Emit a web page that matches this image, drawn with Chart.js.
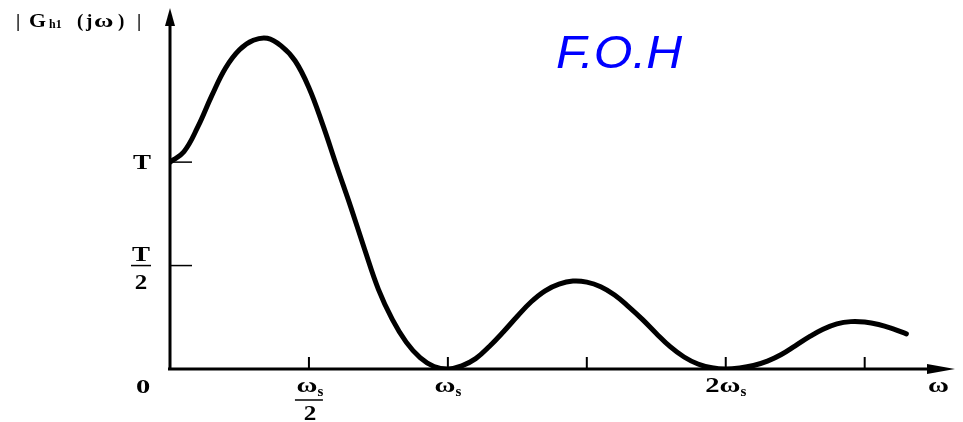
<!DOCTYPE html>
<html>
<head>
<meta charset="utf-8">
<script src="https://cdn.jsdelivr.net/npm/chart.js"></script>
<style>
  html, body { margin: 0; padding: 0; background: #fff; }
  #wrap { width: 963px; height: 422px; }
</style>
</head>
<body>
<div id="wrap"><canvas id="foh" width="963" height="422"></canvas></div>
<script>
// |Gh1(jω)|: ω in units of ωs, magnitude in units of T
const omega = [
  0, 0.05, 0.1, 0.15, 0.2, 0.25, 0.3, 0.35, 0.4, 0.45, 0.5, 0.55, 0.6, 0.65, 0.7, 0.75, 0.8, 0.85, 0.9, 0.95,
  1, 1.05, 1.1, 1.15, 1.2, 1.25, 1.3, 1.35, 1.4, 1.45, 1.5, 1.55, 1.6, 1.65, 1.7, 1.75, 1.8, 1.85, 1.9, 1.95,
  2, 2.05, 2.1, 2.15, 2.2, 2.25, 2.3, 2.35, 2.4, 2.45, 2.5, 2.55, 2.6, 2.65
];
const magnitude = [
  1.0, 1.05, 1.17, 1.32, 1.455, 1.543, 1.589, 1.599, 1.562, 1.49, 1.36, 1.18, 0.98, 0.785, 0.58, 0.385, 0.24, 0.13, 0.055, 0.012,
  0, 0.015, 0.05, 0.11, 0.18, 0.255, 0.325, 0.378, 0.41, 0.425, 0.42, 0.398, 0.358, 0.302, 0.24, 0.172, 0.108, 0.058, 0.024, 0.006,
  0, 0.005, 0.017, 0.038, 0.07, 0.112, 0.155, 0.192, 0.218, 0.229, 0.227, 0.215, 0.195, 0.17
];
const xTickValues = [0.5, 1, 1.5, 2, 2.5];
const xTickLabels = ["ωs/2", "ωs", "", "2ωs", ""];
const yTickValues = [1, 0.5];
const yTickLabels = ["T", "T/2"];

const X_MAX = 2.825;
const Y_MAX = 1.745;
const SERIF = '"Liberation Serif", "DejaVu Serif", serif';

// text stretched sideways, the scan's glyphs are wide
function wideText(ctx, text, x, y, sx) {
  ctx.save();
  ctx.translate(x, y);
  ctx.scale(sx, 1);
  ctx.fillText(text, 0, 0);
  ctx.restore();
  return ctx.measureText(text).width * sx;
}

function centredWide(ctx, text, cx, y, sx) {
  const w = ctx.measureText(text).width * sx;
  ctx.textAlign = "left";
  wideText(ctx, text, cx - w / 2, y, sx);
}

// "ωs" -> ω with a small s below the line, centred on cx
function drawOmegaS(ctx, text, cx, y) {
  const i = text.lastIndexOf("s");
  const main = i > 0 ? text.slice(0, i) : text;
  ctx.textAlign = "left";
  ctx.font = `bold 22px ${SERIF}`;
  const w1 = ctx.measureText(main).width * 1.3;
  ctx.font = `bold 15px ${SERIF}`;
  const w2 = ctx.measureText("s").width;
  const left = cx - (w1 + w2) / 2;
  ctx.font = `bold 22px ${SERIF}`;
  wideText(ctx, main, left, y, 1.3);
  ctx.font = `bold 15px ${SERIF}`;
  ctx.fillText("s", left + w1, y + 4);
}

const axesPlugin = {
  id: "axes",
  beforeDatasetsDraw(chart) {
    const ctx = chart.ctx;
    const xs = chart.scales.x, ys = chart.scales.y;
    const x0 = xs.getPixelForValue(0), y0 = ys.getPixelForValue(0);
    const right = chart.chartArea.right, top = chart.chartArea.top;
    ctx.save();
    ctx.strokeStyle = "#000";
    ctx.fillStyle = "#000";
    ctx.lineWidth = 3;
    ctx.beginPath();
    ctx.moveTo(x0 - 2, y0);
    ctx.lineTo(right - 20, y0);
    ctx.moveTo(x0, y0 + 1);
    ctx.lineTo(x0, top + 12);
    ctx.stroke();
    // arrow heads
    ctx.beginPath();
    ctx.moveTo(right, y0);
    ctx.lineTo(right - 28, y0 - 5);
    ctx.lineTo(right - 28, y0 + 5);
    ctx.closePath();
    ctx.fill();
    ctx.beginPath();
    ctx.moveTo(x0, top);
    ctx.lineTo(x0 - 5, top + 18);
    ctx.lineTo(x0 + 5, top + 18);
    ctx.closePath();
    ctx.fill();

    // x ticks
    ctx.lineWidth = 2;
    ctx.textBaseline = "alphabetic";
    xTickValues.forEach((v, i) => {
      const px = xs.getPixelForValue(v);
      ctx.beginPath();
      ctx.moveTo(px, y0);
      ctx.lineTo(px, y0 - 12);
      ctx.stroke();
      const lab = xTickLabels[i];
      if (!lab) return;
      if (lab.includes("/")) {
        const [num, den] = lab.split("/");
        drawOmegaS(ctx, num, px + 1, y0 + 23);
        ctx.lineWidth = 1.5;
        ctx.beginPath();
        ctx.moveTo(px - 14, y0 + 31);
        ctx.lineTo(px + 14, y0 + 31);
        ctx.stroke();
        ctx.lineWidth = 2;
        ctx.font = `bold 21px ${SERIF}`;
        centredWide(ctx, den, px + 1, y0 + 51, 1.2);
      } else {
        drawOmegaS(ctx, lab, px, y0 + 23);
      }
    });

    // y ticks
    ctx.lineWidth = 1.5;
    yTickValues.forEach((v, i) => {
      const py = ys.getPixelForValue(v);
      ctx.beginPath();
      ctx.moveTo(x0, py);
      ctx.lineTo(x0 + 22, py);
      ctx.stroke();
      const lab = yTickLabels[i];
      ctx.font = `bold 20px ${SERIF}`;
      if (lab.includes("/")) {
        const [num, den] = lab.split("/");
        centredWide(ctx, num, x0 - 29, py - 5, 1.35);
        ctx.beginPath();
        ctx.moveTo(x0 - 39, py);
        ctx.lineTo(x0 - 19, py);
        ctx.stroke();
        centredWide(ctx, den, x0 - 29, py + 23, 1.25);
      } else {
        centredWide(ctx, lab, x0 - 28, py + 7, 1.35);
      }
    });

    // origin and axis names
    ctx.textAlign = "left";
    ctx.font = `bold 19px ${SERIF}`;
    wideText(ctx, "0", x0 - 34, y0 + 24, 1.5);
    ctx.font = `bold 22px ${SERIF}`;
    wideText(ctx, "ω", right - 27, y0 + 23, 1.3);

    ctx.font = `bold 19px ${SERIF}`;
    ctx.fillText("|", 16, 27);
    wideText(ctx, "G", 29, 27, 1.15);
    ctx.font = `bold 12px ${SERIF}`;
    ctx.fillText("h1", 49, 28);
    ctx.font = `bold 19px ${SERIF}`;
    ctx.fillText("(", 77, 27);
    ctx.fillText("j", 86, 27);
    wideText(ctx, "ω", 94, 27, 1.4);
    ctx.fillText(")", 118, 27);
    ctx.fillText("|", 137, 27);
    ctx.restore();
  },
  afterDraw(chart) {
    const ctx = chart.ctx;
    ctx.save();
    ctx.fillStyle = "#0000ff";
    ctx.font = 'italic 46px "Liberation Sans", Arial, sans-serif';
    ctx.textAlign = "left";
    ctx.textBaseline = "alphabetic";
    wideText(ctx, "F.O.H", 556, 68, 1.08);
    ctx.restore();
  }
};

new Chart(document.getElementById("foh"), {
  type: "line",
  data: {
    datasets: [
      {
        data: omega.map((w, i) => ({ x: w, y: magnitude[i] })),
        borderColor: "#000",
        borderWidth: 5,
        pointRadius: 0,
        fill: false,
        tension: 0.4,
        borderCapStyle: "round",
        borderJoinStyle: "round",
      },
    ],
  },
  options: {
    responsive: false,
    animation: false,
    events: [],
    layout: { padding: { left: 170, right: 8, top: 8, bottom: 53 } },
    scales: {
      x: { type: "linear", min: 0, max: X_MAX, display: false },
      y: { type: "linear", min: 0, max: Y_MAX, display: false },
    },
    plugins: {
      legend: { display: false },
      tooltip: { enabled: false },
    },
  },
  plugins: [axesPlugin],
});
</script>
</body>
</html>
